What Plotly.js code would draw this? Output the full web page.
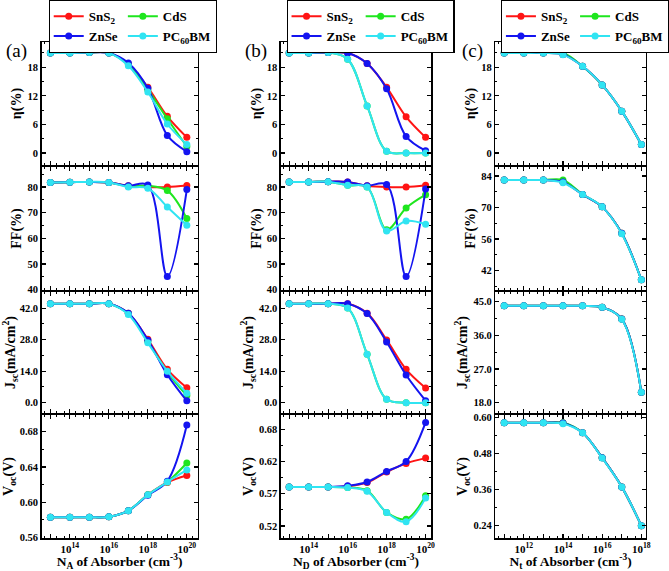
<!DOCTYPE html>
<html><head><meta charset="utf-8">
<script src="https://cdn.plot.ly/plotly-3.0.1.min.js"></script>
<style>html,body{margin:0;padding:0;background:#fff}</style>
</head><body><div id="chart" style="width:669px;height:571px"></div>
<script>
// ---------- data ----------
const seriesNames = ['SnS<sub>2</sub>', 'CdS', 'ZnSe', 'PC<sub>60</sub>BM'];
const seriesColors = ['#ff1414', '#1ee61e', '#1414f0', '#30e4f2'];

const xNA = [1e13, 1e14, 1e15, 1e16, 1e17, 1e18, 1e19, 1e20];
const xND = [1e13, 1e14, 1e15, 1e16, 1e17, 1e18, 1e19, 1e20];
const xNt = [1e11, 1e12, 1e13, 1e14, 1e15, 1e16, 1e17, 1e18];

// (a) acceptor density N_A
const etaA_SnS2 = [21.0, 21.0, 21.1, 21.0, 18.7, 13.8, 7.7, 3.3];
const etaA_CdS  = [21.0, 21.0, 21.1, 21.0, 18.6, 13.3, 7.2, 1.4];
const etaA_ZnSe = [21.0, 21.0, 21.1, 21.0, 18.9, 13.6, 3.7, 0.3];
const etaA_PCBM = [21.0, 21.0, 21.1, 21.0, 18.3, 12.8, 6.1, 1.8];

const ffA_SnS2 = [81.8, 81.9, 82.0, 81.8, 80.5, 80.0, 80.0, 80.6];
const ffA_CdS  = [81.8, 81.9, 82.0, 81.8, 80.3, 80.5, 78.6, 67.7];
const ffA_ZnSe = [81.8, 81.9, 82.0, 81.8, 80.5, 80.8, 45.2, 79.0];
const ffA_PCBM = [81.8, 81.9, 82.0, 81.8, 80.0, 79.5, 72.2, 65.1];

const jscA_SnS2 = [44.0, 44.0, 44.0, 44.0, 39.7, 28.2, 14.8, 6.6];
const jscA_CdS  = [44.0, 44.0, 44.0, 44.0, 39.5, 27.3, 13.6, 3.2];
const jscA_ZnSe = [44.0, 44.0, 44.0, 44.0, 39.8, 27.8, 12.4, 0.8];
const jscA_PCBM = [44.0, 44.0, 44.0, 44.0, 39.2, 26.6, 14.0, 4.2];

const vocA_SnS2 = [0.583, 0.583, 0.583, 0.5835, 0.5905, 0.6085, 0.6225, 0.6303];
const vocA_CdS  = [0.583, 0.583, 0.583, 0.5835, 0.5905, 0.6085, 0.6230, 0.6446];
const vocA_ZnSe = [0.583, 0.583, 0.583, 0.5835, 0.5905, 0.6080, 0.6240, 0.6876];
const vocA_PCBM = [0.583, 0.583, 0.583, 0.5835, 0.5905, 0.6085, 0.6230, 0.6367];

// (b) donor density N_D
const etaB_SnS2 = [21.0, 21.0, 21.1, 21.0, 18.8, 13.8, 7.6, 3.3];
const etaB_CdS  = [21.0, 21.0, 21.1, 19.7, 9.9, 0.4, 0.0, 0.0];
const etaB_ZnSe = [21.0, 21.0, 21.1, 21.0, 18.8, 13.5, 3.5, 0.5];
const etaB_PCBM = [21.0, 21.0, 21.1, 19.7, 9.9, 0.4, 0.0, 0.0];

const ffB_SnS2 = [82.0, 82.0, 82.1, 82.0, 80.5, 80.0, 80.0, 80.7];
const ffB_CdS  = [82.0, 82.0, 82.1, 80.7, 80.0, 63.4, 71.8, 77.0];
const ffB_ZnSe = [82.0, 82.0, 82.1, 82.0, 80.5, 81.0, 45.2, 79.2];
const ffB_PCBM = [82.0, 82.0, 82.1, 80.7, 80.0, 62.9, 66.8, 65.5];

const jscB_SnS2 = [44.0, 44.0, 44.0, 44.0, 39.8, 27.9, 14.8, 6.5];
const jscB_CdS  = [44.0, 44.0, 44.0, 42.1, 21.5, 1.5, 0.0, 0.0];
const jscB_ZnSe = [44.0, 44.0, 44.0, 44.0, 39.6, 27.0, 12.3, 0.9];
const jscB_PCBM = [44.0, 44.0, 44.0, 42.1, 21.5, 1.5, 0.0, 0.0];

const vocB_SnS2 = [0.583, 0.583, 0.583, 0.584, 0.590, 0.607, 0.621, 0.6295];
const vocB_CdS  = [0.583, 0.583, 0.583, 0.582, 0.577, 0.542, 0.531, 0.569];
const vocB_ZnSe = [0.583, 0.583, 0.583, 0.585, 0.591, 0.608, 0.624, 0.687];
const vocB_PCBM = [0.583, 0.583, 0.583, 0.582, 0.576, 0.542, 0.527, 0.565];

// (c) defect density N_t
const etaC_SnS2 = [21.0, 21.0, 21.0, 20.7, 18.2, 14.3, 8.8, 1.8];
const etaC_CdS  = [21.0, 21.0, 21.0, 21.0, 18.2, 14.3, 8.8, 1.8];
const etaC_ZnSe = [21.0, 21.0, 21.0, 20.7, 18.2, 14.3, 8.8, 1.8];
const etaC_PCBM = [21.0, 21.0, 21.0, 20.6, 18.2, 14.3, 8.8, 1.8];

const ffC_SnS2 = [82.2, 82.2, 82.2, 81.3, 75.8, 70.3, 58.6, 37.9];
const ffC_CdS  = [82.2, 82.2, 82.2, 82.2, 75.8, 70.3, 58.6, 37.9];
const ffC_ZnSe = [82.2, 82.2, 82.2, 81.3, 75.8, 70.3, 58.6, 37.9];
const ffC_PCBM = [82.2, 82.2, 82.2, 81.0, 75.8, 70.3, 58.4, 37.9];

const jscC_SnS2 = [43.9, 43.9, 43.9, 43.9, 43.9, 43.5, 40.4, 20.8];
const jscC_CdS  = [43.9, 43.9, 43.9, 43.9, 43.9, 43.5, 40.4, 20.8];
const jscC_ZnSe = [43.9, 43.9, 43.9, 43.9, 43.9, 43.5, 40.4, 20.8];
const jscC_PCBM = [43.9, 43.9, 43.9, 43.9, 43.9, 43.5, 40.3, 20.8];

const vocC_SnS2 = [0.582, 0.582, 0.582, 0.581, 0.549, 0.466, 0.369, 0.240];
const vocC_CdS  = [0.582, 0.582, 0.582, 0.582, 0.549, 0.466, 0.369, 0.240];
const vocC_ZnSe = [0.582, 0.582, 0.582, 0.581, 0.549, 0.466, 0.369, 0.240];
const vocC_PCBM = [0.582, 0.582, 0.582, 0.579, 0.549, 0.465, 0.369, 0.240];

const xTitles = ['N<sub>A</sub> of Absorber (cm<sup>-3</sup>)', 'N<sub>D</sub> of Absorber (cm<sup>-3</sup>)', 'N<sub>t</sub> of Absorber (cm<sup>-3</sup>)'];
const yTitles = ['η(%)', 'FF(%)', 'J<sub>sc</sub>(mA/cm<sup>2</sup>)', 'V<sub>oc</sub>(V)'];
const panelLabels = ['(a)', '(b)', '(c)'];
const xDecadesAB = [13, 14, 15, 16, 17, 18, 19, 20];
const xDecadesC = [11, 12, 13, 14, 15, 16, 17, 18];
const xLabelledAB = [14, 16, 18, 20];
const xLabelledC = [12, 14, 16, 18];

// ---------- layout geometry ----------
const W = 669, H = 571;
const colPx = [[42.7, 202.7], [288.3, 442.3], [508.3, 662.7]];
const rowPx = [[42, 165], [167, 290], [292, 413], [415, 538]];
const xRanges = [[12.55, 20.55], [12.58, 20.28], [10.55, 18.23]];
const yAxesCfg = [
  [ {range:[-2.5,23.3], tick0:0, dtick:6, minor:3, fmt:''},
    {range:[39.9,87.8], tick0:0, dtick:10, minor:5, fmt:''},
    {range:[-4.6,49.2], tick0:0, dtick:14, minor:7, fmt:'.1f'},
    {range:[0.5595,0.699], tick0:0.56, dtick:0.04, minor:0.02, fmt:'.2f'} ],
  [ {range:[-2.5,23.3], tick0:0, dtick:6, minor:3, fmt:''},
    {range:[39.9,87.8], tick0:0, dtick:10, minor:5, fmt:''},
    {range:[-4.6,49.2], tick0:0, dtick:14, minor:7, fmt:'.1f'},
    {range:[0.5007,0.699], tick0:0.52, dtick:0.052, minor:0.026, fmt:'.2f'} ],
  [ {range:[-2.5,23.3], tick0:0, dtick:6, minor:3, fmt:''},
    {range:[33.4,88], tick0:42, dtick:14, minor:7, fmt:''},
    {range:[15.25,47.6], tick0:18, dtick:9, minor:4.5, fmt:'.1f'},
    {range:[0.199,0.608], tick0:0.24, dtick:0.12, minor:0.06, fmt:'.2f'} ]
];

const cols = [
  {x: xNA, rows: [[etaA_SnS2, etaA_CdS, etaA_ZnSe, etaA_PCBM], [ffA_SnS2, ffA_CdS, ffA_ZnSe, ffA_PCBM], [jscA_SnS2, jscA_CdS, jscA_ZnSe, jscA_PCBM], [vocA_SnS2, vocA_CdS, vocA_ZnSe, vocA_PCBM]]},
  {x: xND, rows: [[etaB_SnS2, etaB_CdS, etaB_ZnSe, etaB_PCBM], [ffB_SnS2, ffB_CdS, ffB_ZnSe, ffB_PCBM], [jscB_SnS2, jscB_CdS, jscB_ZnSe, jscB_PCBM], [vocB_SnS2, vocB_CdS, vocB_ZnSe, vocB_PCBM]]},
  {x: xNt, rows: [[etaC_SnS2, etaC_CdS, etaC_ZnSe, etaC_PCBM], [ffC_SnS2, ffC_CdS, ffC_ZnSe, ffC_PCBM], [jscC_SnS2, jscC_CdS, jscC_ZnSe, jscC_PCBM], [vocC_SnS2, vocC_CdS, vocC_ZnSe, vocC_PCBM]]}
];

const FONT = '"Liberation Serif", "Times New Roman", Times, serif';
const traces = [];
const layout = {
  width: W, height: H, margin: {l:0, r:0, t:0, b:0},
  paper_bgcolor: '#fff', plot_bgcolor: '#fff', showlegend: true,
  font: {family: FONT, color: '#000'},
  annotations: []
};
const legendKeys = ['legend', 'legend2', 'legend3'];
const legendX = [50, 294, 514];

cols.forEach((col, c) => {
  const dec = c < 2 ? xDecadesAB : xDecadesC;
  const lab = c < 2 ? xLabelledAB : xLabelledC;
  col.rows.forEach((rowSeries, r) => {
    const k = r * 3 + c + 1;
    const xa = 'xaxis' + (k === 1 ? '' : k), ya = 'yaxis' + (k === 1 ? '' : k);
    const xref = 'x' + (k === 1 ? '' : k), yref = 'y' + (k === 1 ? '' : k);
    rowSeries.forEach((ys, s) => {
      traces.push({
        type: 'scatter', mode: 'lines+markers', x: col.x, y: ys,
        xaxis: xref, yaxis: yref, name: seriesNames[s],
        line: {color: seriesColors[s], width: 2, shape: 'spline', smoothing: 1},
        marker: {color: seriesColors[s], size: 7},
        showlegend: r === 0, legend: legendKeys[c],
        legendgroup: 'g' + c + '_' + (s % 2),
        cliponaxis: false
      });
    });
    layout[xa] = {
      domain: [colPx[c][0] / W, colPx[c][1] / W], anchor: yref, type: 'log',
      range: xRanges[c], showgrid: false, zeroline: false,
      showline: true, linecolor: '#000', linewidth: 1.5, mirror: 'allticks',
      ticks: 'inside', ticklen: 4, tickwidth: 1.2, tickcolor: '#000',
      tickmode: 'array', tickvals: dec.map(d => Math.pow(10, d)),
      ticktext: dec.map(d => lab.includes(d) ? '10<sup>' + d + '</sup>' : ''),
      showticklabels: r === 3,
      tickfont: {family: FONT, size: 11, color: '#000', weight: 700},
      minor: {ticks: 'inside', ticklen: 2, tickwidth: 1, tickcolor: '#000', showgrid: false},
      title: r === 3 ? {text: xTitles[c], font: {family: FONT, size: 13.5, color: '#000', weight: 700}, standoff: 7} : {text: ''}
    };
    const yc = yAxesCfg[c][r];
    layout[ya] = {
      domain: [1 - rowPx[r][1] / H, 1 - rowPx[r][0] / H], anchor: xref,
      range: yc.range, tick0: yc.tick0, dtick: yc.dtick, tickformat: yc.fmt,
      showgrid: false, zeroline: false,
      showline: true, linecolor: '#000', linewidth: 1.5, mirror: 'allticks',
      ticks: 'inside', ticklen: 4, tickwidth: 1.2, tickcolor: '#000',
      tickfont: {family: FONT, size: 10.5, color: '#000', weight: 700},
      minor: {ticks: 'inside', ticklen: 2, tickwidth: 1, tickcolor: '#000', dtick: yc.minor, tick0: yc.tick0, showgrid: false},
      title: {text: yTitles[r], font: {family: FONT, size: 14, color: '#000', weight: 700}, standoff: 2}
    };
  });
  layout[legendKeys[c]] = {
    x: legendX[c] / W, y: 1, xanchor: 'left', yanchor: 'top',
    orientation: 'h', traceorder: 'grouped', tracegroupgap: 0,
    bgcolor: '#fff', bordercolor: '#000', borderwidth: 1.2,
    font: {family: FONT, size: 13, color: '#000', weight: 700},
    itemwidth: 30
  };
  layout.annotations.push({
    text: panelLabels[c], xref: 'paper', yref: 'paper',
    x: [17, 263, 485][c] / W, y: 1 - 51 / H, xanchor: 'center', yanchor: 'middle',
    showarrow: false, font: {family: FONT, size: 19, color: '#000'}
  });
});

Plotly.newPlot('chart', traces, layout, {displayModeBar: false, staticPlot: true});
</script>
</body></html>
